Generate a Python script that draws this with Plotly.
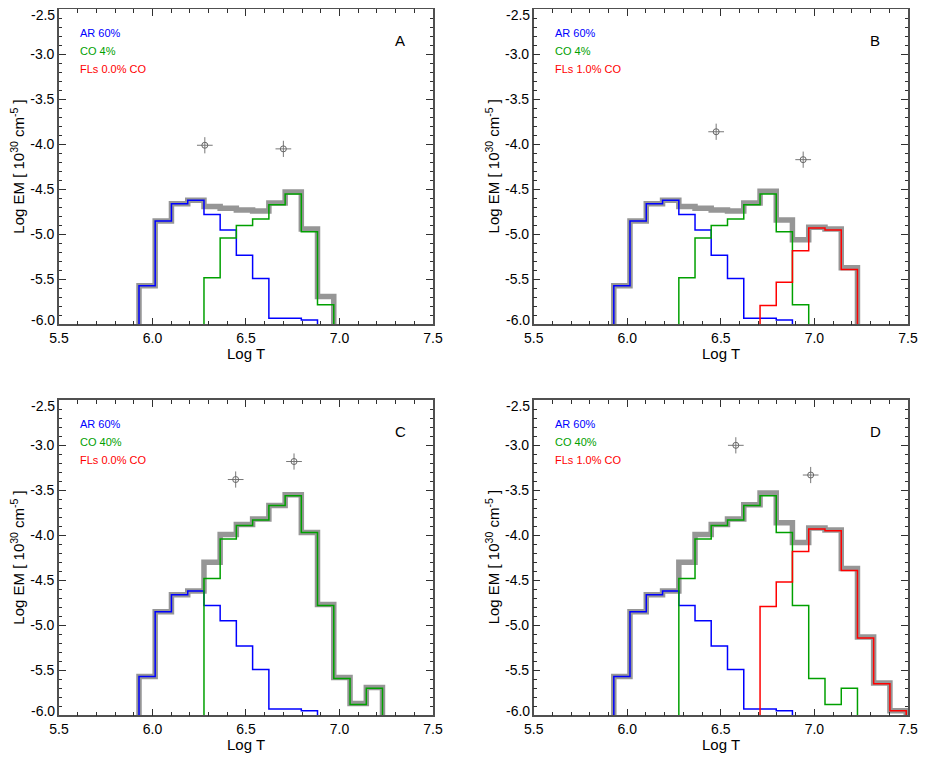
# -*- coding: utf-8 -*-
# what : Log EM vs Log T histograms (AR / CO / FLs), 4 panels
#---------------------------------------------------
import plotly.graph_objects as go

#---------------------------------------------------
# data (bin centers in Log T, values in Log EM ; -7.0 = below the plot)
log_t = [5.885, 5.971, 6.058, 6.145, 6.232, 6.319, 6.405, 6.492, 6.579, 6.666,
         6.753, 6.839, 6.926, 7.013, 7.100, 7.187, 7.273, 7.360, 7.447, 7.534]

ar_60 = [-7.0, -5.57, -4.85, -4.66, -4.62, -4.78, -4.95, -5.23, -5.49, -5.93,
         -5.93, -5.95, -7.0, -7.0, -7.0, -7.0, -7.0, -7.0, -7.0, -7.0]
co_4 = [-7.0, -7.0, -7.0, -7.0, -7.0, -5.48, -5.04, -4.90, -4.83, -4.67,
        -4.55, -4.97, -5.78, -7.0, -7.0, -7.0, -7.0, -7.0, -7.0, -7.0]
co_40 = [-7.0, -7.0, -7.0, -7.0, -7.0, -4.48, -4.04, -3.89, -3.83, -3.67,
         -3.56, -3.97, -4.78, -5.59, -5.88, -5.70, -7.0, -7.0, -7.0, -7.0]
fl_1_co4 = [-7.0, -7.0, -7.0, -7.0, -7.0, -7.0, -7.0, -7.0, -7.0, -7.0,
            -5.79, -5.53, -5.18, -4.93, -4.95, -5.39, -7.0, -7.0, -7.0, -7.0]
fl_1_co40 = [-7.0, -7.0, -7.0, -7.0, -7.0, -7.0, -7.0, -7.0, -7.0, -7.0,
             -4.79, -4.52, -4.18, -3.93, -3.95, -4.39, -5.14, -5.65, -5.95, -7.0]

total_a = [-7.0, -5.57, -4.85, -4.66, -4.62, -4.69, -4.71, -4.73, -4.74, -4.65,
           -4.53, -4.94, -5.69, -7.0, -7.0, -7.0, -7.0, -7.0, -7.0, -7.0]
total_b = [-7.0, -5.57, -4.85, -4.66, -4.62, -4.69, -4.71, -4.73, -4.74, -4.65,
           -4.52, -4.84, -5.06, -4.92, -4.94, -5.37, -7.0, -7.0, -7.0, -7.0]
total_c = [-7.0, -5.57, -4.85, -4.66, -4.62, -4.30, -3.99, -3.88, -3.82, -3.67,
           -3.55, -3.97, -4.77, -5.58, -5.87, -5.69, -7.0, -7.0, -7.0, -7.0]
total_d = [-7.0, -5.57, -4.85, -4.66, -4.62, -4.30, -3.99, -3.88, -3.82, -3.66,
           -3.53, -3.86, -4.08, -3.92, -3.94, -4.37, -5.13, -5.64, -5.95, -7.0]

# observed points with error bars
obs_t_a, obs_em_a = [6.28, 6.70], [-4.01, -4.05]
obs_t_b, obs_em_b = [6.475, 6.94], [-3.86, -4.17]
obs_t_c, obs_em_c = [6.445, 6.757], [-3.38, -3.18]
obs_t_d, obs_em_d = [6.58, 6.98], [-3.00, -3.33]
obs_err_t = [0.042, 0.042]
obs_err_em = [0.09, 0.09]

# texts
labels_a = ["AR 60%", "CO 4%", "FLs 0.0% CO", "A"]
labels_b = ["AR 60%", "CO 4%", "FLs 1.0% CO", "B"]
labels_c = ["AR 60%", "CO 40%", "FLs 0.0% CO", "C"]
labels_d = ["AR 60%", "CO 40%", "FLs 1.0% CO", "D"]

x_tickvals = [5.5, 6.0, 6.5, 7.0, 7.5]
x_ticktext = ["5.5", "6.0", "6.5", "7.0", "7.5"]
y_tickvals = [-3.0, -3.5, -4.0, -4.5, -5.0, -5.5]
y_ticktext = ["-3.0", "-3.5", "-4.0", "-4.5", "-5.0", "-5.5"]
# end labels (-2.5 / -6.0) are pulled inside the frame like IDL does -> drawn separately
y_end_labels = ["-2.5", "-6.0"]

#---------------------------------------------------
BLUE, GREEN, RED, GRAY = "#0000ff", "#00a000", "#ff0000", "#969696"
FONT = "Liberation Sans, Arial, sans-serif"
# page body keeps an 8px margin -> figure is 16px smaller than the window
FIG_W, FIG_H = 910, 748

panels = [
  # (axis suffix, x domain, y domain, total, ar, co, fl, obs_t, obs_em, labels)
  ("", [0.0560, 0.4670], [0.5769, 0.9983], total_a, ar_60, co_4, None, obs_t_a, obs_em_a, labels_a),
  ("2", [0.5777, 0.9890], [0.5769, 0.9983], total_b, ar_60, co_4, fl_1_co4, obs_t_b, obs_em_b, labels_b),
  ("3", [0.0560, 0.4670], [0.0544, 0.4755], total_c, ar_60, co_40, None, obs_t_c, obs_em_c, labels_c),
  ("4", [0.5777, 0.9890], [0.0544, 0.4755], total_d, ar_60, co_40, fl_1_co40, obs_t_d, obs_em_d, labels_d),
]

#---------------
def step(x, y, color, width, xa, ya):
  return go.Scatter(x=x, y=y, mode="lines", line=dict(color=color, width=width, shape="hvh"),
                    xaxis=xa, yaxis=ya, showlegend=False, hoverinfo="skip")

#---------------
def mk_fig():
  fig = go.Figure()
  annos = []
  for sfx, xdom, ydom, tot, ar, co, fl, ot, oem, lab in panels:
    xa, ya = "x" + sfx, "y" + sfx
    fig.add_trace(step(log_t, tot, GRAY, 5.5, xa, ya))
    fig.add_trace(step(log_t, ar, BLUE, 1.5, xa, ya))
    fig.add_trace(step(log_t, co, GREEN, 1.5, xa, ya))
    if fl is not None:
      fig.add_trace(step(log_t, fl, RED, 1.5, xa, ya))
    fig.add_trace(go.Scatter(
      x=ot, y=oem, mode="markers", xaxis=xa, yaxis=ya, showlegend=False,
      marker=dict(symbol="circle-open", size=6, color="#666666", line=dict(width=1)),
      error_x=dict(type="data", array=obs_err_t, color="#777777", thickness=1, width=0),
      error_y=dict(type="data", array=obs_err_em, color="#777777", thickness=1, width=0)))

    common = dict(showline=True, linecolor="#505050", linewidth=1.5, mirror="allticks",
                  ticks="inside", ticklen=7, tickwidth=1, tickcolor="#303030",
                  showgrid=False, zeroline=False, automargin=False,
                  tickfont=dict(family=FONT, size=14, color="#000000"))
    fig.layout["xaxis" + sfx] = dict(
      common, domain=xdom, range=[5.5, 7.5], anchor=ya,
      tickvals=x_tickvals, ticktext=x_ticktext,
      minor=dict(dtick=0.1, tick0=5.5, ticks="inside", ticklen=3.5, tickcolor="#303030"))
    fig.layout["yaxis" + sfx] = dict(
      common, domain=ydom, range=[-6.0, -2.5], anchor=xa,
      tickvals=y_tickvals, ticktext=y_ticktext,
      minor=dict(dtick=0.1, tick0=-6.0, ticks="inside", ticklen=3.5, tickcolor="#303030"))

    xr, yr = xa + " domain", ya + " domain"
    # y end labels, shifted inward
    for txt, yy, sh in zip(y_end_labels, [1.0, 0.0], [-5.5, 4.5]):
      annos.append(dict(text=txt, xref=xr, yref=yr, x=0.0, y=yy, xshift=-3, yshift=sh,
                        xanchor="right", yanchor="middle", showarrow=False, borderpad=0,
                        font=dict(family=FONT, size=14, color="#000000")))
    for i, (txt, col) in enumerate(zip(lab[:3], [BLUE, GREEN, RED])):
      annos.append(dict(text=txt, xref=xr, yref=yr, x=0.051, y=0.924 - i * 0.0571,
                        xanchor="left", yanchor="middle", showarrow=False,
                        font=dict(family=FONT, size=11, color=col)))
    annos.append(dict(text=lab[3], xref=xr, yref=yr, x=0.912, y=0.902,
                      xanchor="center", yanchor="middle", showarrow=False,
                      font=dict(family=FONT, size=15, color="#000000")))
    annos.append(dict(text="Log T", xref=xr, yref=yr, x=0.5, y=-0.092,
                      xanchor="center", yanchor="middle", showarrow=False,
                      font=dict(family=FONT, size=15, color="#000000")))
    annos.append(dict(text="Log EM [ 10<sup>30</sup> cm<sup>-5</sup> ]", xref=xr, yref=yr,
                      x=-0.110, y=0.5, textangle=-90, xanchor="center", yanchor="middle",
                      showarrow=False, borderpad=0,
                      font=dict(family=FONT, size=15, color="#000000")))

  fig.update_layout(width=FIG_W, height=FIG_H, autosize=False,
                    margin=dict(l=0, r=0, t=0, b=0),
                    paper_bgcolor="white", plot_bgcolor="white",
                    annotations=annos)
  fig.write_html("out.html")
  return

if __name__ == "__main__":
  mk_fig()
